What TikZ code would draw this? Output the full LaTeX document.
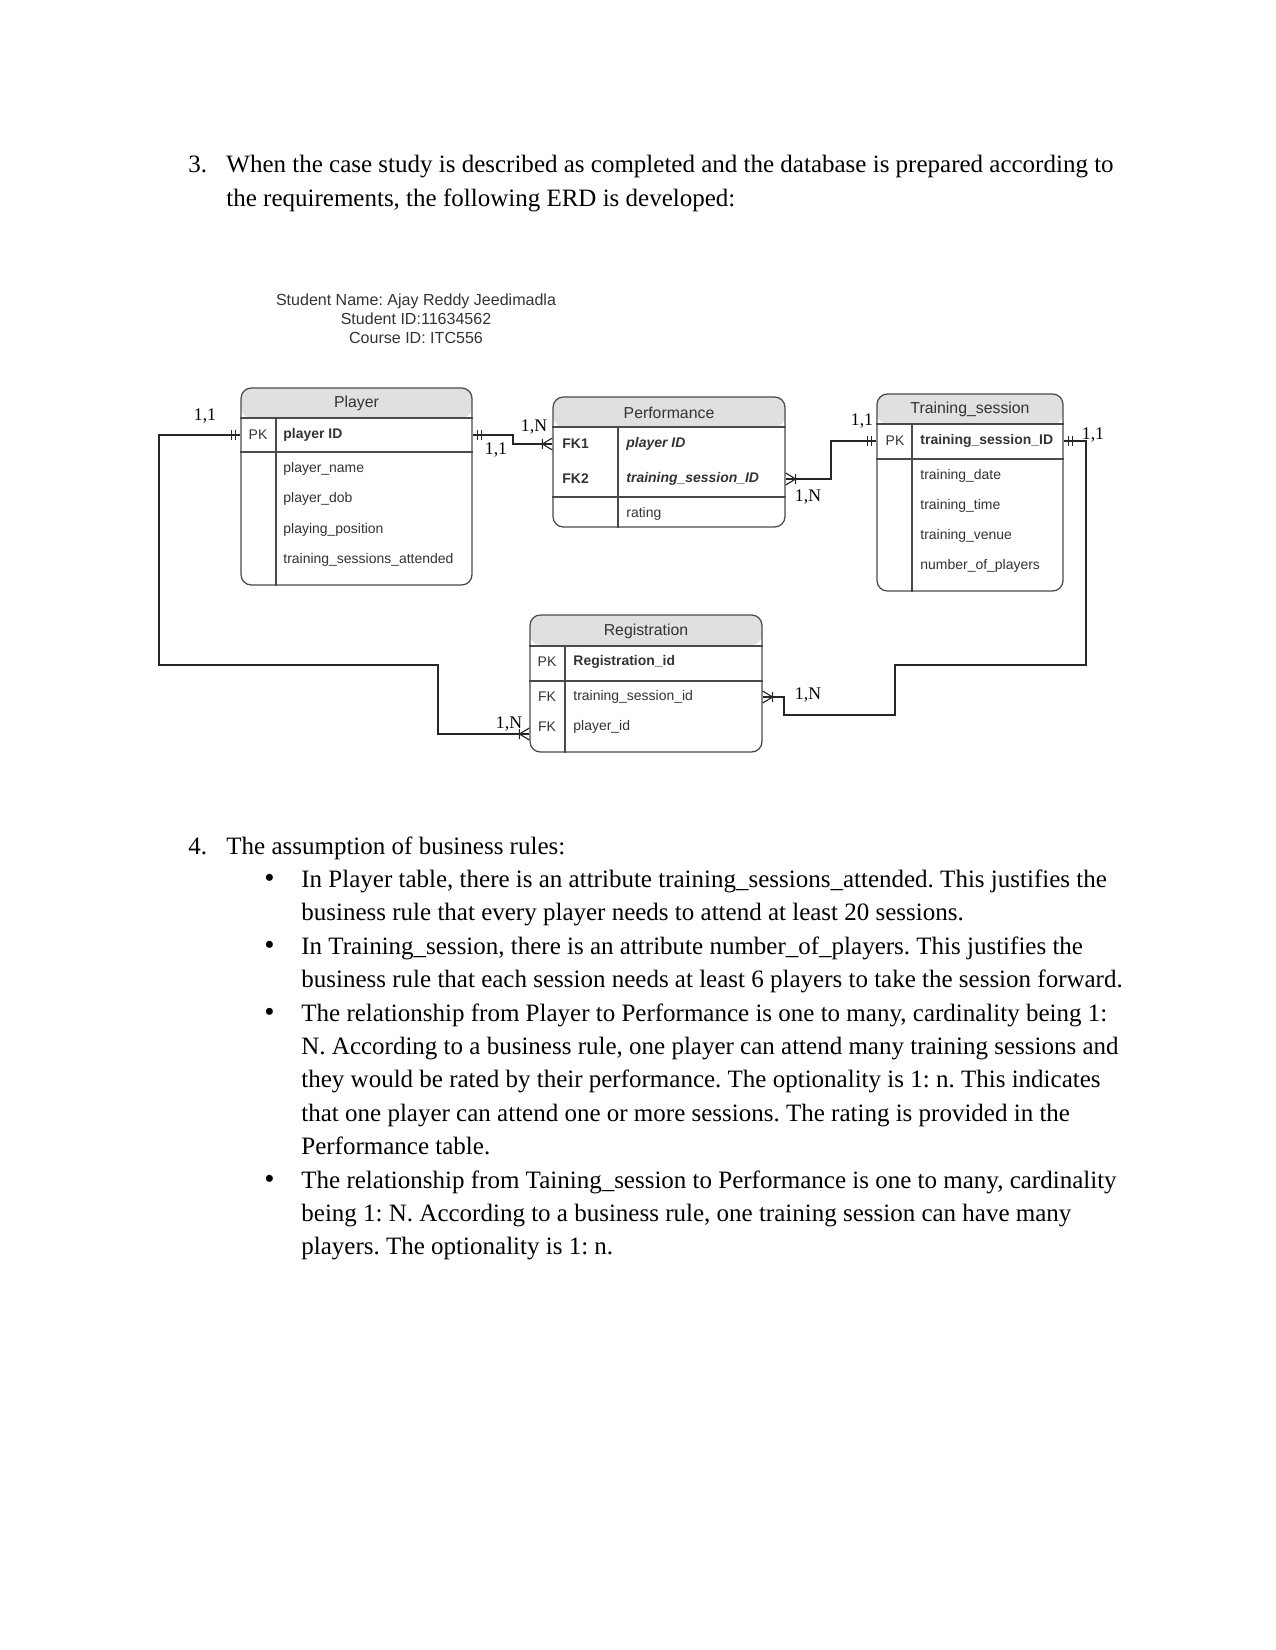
\documentclass[tikz,border=0pt]{standalone}
\usepackage{fontspec}
\setmainfont{Liberation Serif}
\newfontfamily\erdfont{Liberation Sans}
\usetikzlibrary{positioning, calc, fit}

\definecolor{hdrgray}{HTML}{E0E0E0}
\definecolor{boxgray}{HTML}{4A4A4A}
\definecolor{inkgray}{HTML}{333333}

\tikzset{
  tbl/.style={fit={#1}, draw=boxgray, line width=0.6pt, rounded corners=5pt, inner sep=0pt,
    path picture={\fill[hdrgray] (path picture bounding box.north west) rectangle ([yshift=-14.4pt]path picture bounding box.north east);}},
  sepline/.style={draw=boxgray, line width=0.6pt},
  tbltitle/.style={inner sep=0pt, font=\erdfont\fontsize{7.6}{9}\selectfont, text=inkgray},
  attr/.style={anchor=west, inner sep=0pt, font=\erdfont\fontsize{6.7}{8}\selectfont, text=inkgray},
  keycol/.style={inner sep=0pt, font=\erdfont\fontsize{6.7}{8}\selectfont, text=inkgray},
  conn/.style={draw=black!85, line width=0.55pt},
  cardlbl/.style={inner sep=0pt, font=\fontsize{8.5}{10}\selectfont},
  txt/.style={anchor=base west, inner sep=0pt, font=\fontsize{12}{14}\selectfont},
  dot/.style={anchor=base west, inner sep=0pt, font=\fontsize{14}{14}\selectfont},
  pics/onemark/.style={code={\draw[conn] (5,-5) -- (5,5) (9,-5) -- (9,5);}},
  pics/manymark/.style={code={\draw[conn] (0,-6) -- (10,0) -- (0,6) (10,-5) -- (10,5);}},
}

\begin{document}
\frenchspacing
\begin{tikzpicture}[x=0.48pt, y=-0.48pt]
  \useasboundingbox[fill=white] (0,0) rectangle (1275,1650);

  % Question 3
  \node[txt] (q3n) at (188,173) {3.};
  \node[txt] (q3a) at (226,173) {When the case study is described as completed and the database is prepared according to};
  \node[txt] (q3b) at (226,206.4) {the requirements, the following ERD is developed:};

  % Student details
  \node[align=center, font=\erdfont\fontsize{7.7}{9.1}\selectfont, text=inkgray] (student) at (416,318.5)
    {Student Name: Ajay Reddy Jeedimadla\\Student ID:11634562\\Course ID: ITC556};

  % Player table
  \node[tbl={(241,388) (472,585)}] (player) {};
  \draw[sepline] (player.west |- 0,418) -- (player.east |- 0,418);
  \draw[sepline] (player.west |- 0,452) -- (player.east |- 0,452);
  \draw[sepline] (276,418) -- (player.south -| 276,0);
  \node[tbltitle] (playerT) at (player.north |- 0,403.5) {Player};
  \node[keycol] (playerK) at (258,435) {PK};
  \node[attr] (pPK) at (283,435) {\bfseries player ID};
  \node[attr] (pA1) at (283,469) {player\_name};
  \node[attr] (pA2) at (283,499) {player\_dob};
  \node[attr] (pA3) at (283,530) {playing\_position};
  \node[attr] (pA4) at (283,560) {training\_sessions\_attended};

  % Performance table
  \node[tbl={(553,397) (785,527)}] (perf) {};
  \draw[sepline] (perf.west |- 0,427) -- (perf.east |- 0,427);
  \draw[sepline] (perf.west |- 0,497) -- (perf.east |- 0,497);
  \draw[sepline] (618,427) -- (perf.south -| 618,0);
  \node[tbltitle] (perfT) at (perf.north |- 0,412.5) {Performance};
  \node[attr] (perfK1) at (562,444) {\bfseries FK1};
  \node[attr] (perfK2) at (562,479) {\bfseries FK2};
  \node[attr] (fk1) at (626,444) {\bfseries\itshape player ID};
  \node[attr] (fk2) at (626,479) {\bfseries\itshape training\_session\_ID};
  \node[attr] (fA1) at (626,514) {rating};

  % Training_session table
  \node[tbl={(877,394) (1063,591)}] (train) {};
  \draw[sepline] (train.west |- 0,424) -- (train.east |- 0,424);
  \draw[sepline] (train.west |- 0,459) -- (train.east |- 0,459);
  \draw[sepline] (912,424) -- (train.south -| 912,0);
  \node[tbltitle] (trainT) at (train.north |- 0,409) {Training\_session};
  \node[keycol] (trainK) at (895,441) {PK};
  \node[attr] (tPK) at (920,441) {\bfseries training\_session\_ID};
  \node[attr] (tA1) at (920,476) {training\_date};
  \node[attr] (tA2) at (920,506) {training\_time};
  \node[attr] (tA3) at (920,536) {training\_venue};
  \node[attr] (tA4) at (920,566) {number\_of\_players};

  % Registration table
  \node[tbl={(530,615) (762,752)}] (reg) {};
  \draw[sepline] (reg.west |- 0,646) -- (reg.east |- 0,646);
  \draw[sepline] (reg.west |- 0,681) -- (reg.east |- 0,681);
  \draw[sepline] (565,646) -- (reg.south -| 565,0);
  \node[tbltitle] (regT) at (reg.north |- 0,631) {Registration};
  \node[keycol] (regK1) at (547,662) {PK};
  \node[keycol] (regK2) at (547,697) {FK};
  \node[keycol] (regK3) at (547,727) {FK};
  \node[attr] (rPK) at (573,662) {\bfseries Registration\_id};
  \node[attr] (rFKt) at (573,697) {training\_session\_id};
  \node[attr] (rFKp) at (573,727) {player\_id};

  % Relationships
  \draw[conn] (player.west |- pPK) -- (159,435) |- (438,665) |- ($(reg.west |- rFKp)+(0,7)$);
  \draw[conn] (player.east |- pPK) -- (513,435) |- (perf.west |- fk1);
  \draw[conn] (perf.east |- fk2) -- (831,479) |- (train.west |- tPK);
  \draw[conn] (train.east |- tPK) -- (1086,441) |- (895,665) |- (784,715) |- (reg.east |- rFKt);

  % Crow's foot ends
  \pic[rotate=180] at (player.west |- pPK) {onemark};
  \pic at (player.east |- pPK) {onemark};
  \pic[rotate=180] at (perf.west |- fk1) {manymark};
  \pic at (perf.east |- fk2) {manymark};
  \pic[rotate=180] at (train.west |- tPK) {onemark};
  \pic at (train.east |- tPK) {onemark};
  \pic at (reg.east |- rFKt) {manymark};
  \pic[rotate=180] at ($(reg.west |- rFKp)+(0,7)$) {manymark};

  % Cardinalities
  \node[cardlbl] (c1) at (205,416) {1,1};
  \node[cardlbl] (c2) at (496,450) {1,1};
  \node[cardlbl] (c3) at (534,427) {1,N};
  \node[cardlbl] (c4) at (808,497) {1,N};
  \node[cardlbl] (c5) at (862,421) {1,1};
  \node[cardlbl] (c6) at (1093,435) {1,1};
  \node[cardlbl] (c7) at (808,695) {1,N};
  \node[cardlbl] (c8) at (509,724) {1,N};

  % Question 4
  \node[txt] (q4n) at (188,854) {4.};
  \node[txt] (q4) at (226,854) {The assumption of business rules:};
  \node[dot] (b1) at (264,887.4) {\textbullet};
  \node[txt] (r1a) at (301,887.4) {In Player table, there is an attribute training\_sessions\_attended. This justifies the};
  \node[txt] (r1b) at (301,920.8) {business rule that every player needs to attend at least 20 sessions.};
  \node[dot] (b2) at (264,954.2) {\textbullet};
  \node[txt] (r2a) at (301,954.2) {In Training\_session, there is an attribute number\_of\_players. This justifies the};
  \node[txt] (r2b) at (301,987.6) {business rule that each session needs at least 6 players to take the session forward.};
  \node[dot] (b3) at (264,1021) {\textbullet};
  \node[txt] (r3a) at (301,1021) {The relationship from Player to Performance is one to many, cardinality being 1:};
  \node[txt] (r3b) at (301,1054.4) {N. According to a business rule, one player can attend many training sessions and};
  \node[txt] (r3c) at (301,1087.8) {they would be rated by their performance. The optionality is 1: n. This indicates};
  \node[txt] (r3d) at (301,1121.2) {that one player can attend one or more sessions. The rating is provided in the};
  \node[txt] (r3e) at (301,1154.6) {Performance table.};
  \node[dot] (b4) at (264,1188) {\textbullet};
  \node[txt] (r4a) at (301,1188) {The relationship from Taining\_session to Performance is one to many, cardinality};
  \node[txt] (r4b) at (301,1221.4) {being 1: N. According to a business rule, one training session can have many};
  \node[txt] (r4c) at (301,1254.8) {players. The optionality is 1: n.};
\end{tikzpicture}
\end{document}
